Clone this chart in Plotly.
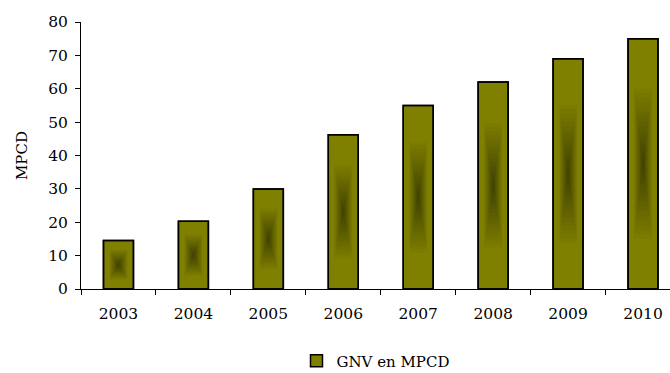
import numpy as np
import plotly.graph_objects as go

years = ["2003", "2004", "2005", "2006", "2007", "2008", "2009", "2010"]
gnv_mpcd = [14.5, 20.3, 30, 46.2, 55, 62, 69, 75]
y_ticks = [0, 10, 20, 30, 40, 50, 60, 70, 80]
series_name = "GNV en MPCD"
y_title = "MPCD"

FONT = "DejaVu Serif"
OUTER = np.array([128, 128, 0])
INNER = np.array([62, 64, 0])
BAR_W = 0.4

def ring_color(f):
    if f >= 0.65:
        c = OUTER
    else:
        t = f / 0.65
        c = INNER + (OUTER - INNER) * t
    return "rgb(%d,%d,%d)" % tuple(int(round(v)) for v in c)

fig = go.Figure()
vals = np.array(gnv_mpcd, dtype=float)

fig.add_trace(go.Bar(
    x=years, y=vals, width=BAR_W, name=series_name,
    marker=dict(color="rgb(128,128,0)", line=dict(color="black", width=1.5)),
    showlegend=True,
))
for f in np.linspace(0.9, 0.04, 24):
    fig.add_trace(go.Bar(
        x=years, y=vals * f, base=vals * (1 - f) / 2, width=BAR_W * f,
        marker=dict(color=ring_color(f), line=dict(width=0)),
        showlegend=False, hoverinfo="skip",
    ))
fig.add_trace(go.Bar(
    x=years, y=vals, width=BAR_W,
    marker=dict(color="rgba(0,0,0,0)", line=dict(color="black", width=1.5)),
    showlegend=False, hoverinfo="skip",
))

fig.update_layout(
    width=670, height=373,
    margin=dict(l=81, r=0, t=22, b=84, autoexpand=False),
    barmode="overlay",
    plot_bgcolor="white", paper_bgcolor="white",
    font=dict(family=FONT, size=15, color="black"),
    showlegend=True,
    legend=dict(orientation="h", x=0.5, xanchor="center",
                yref="container", y=(373 - 361) / 373, yanchor="middle",
                font=dict(family=FONT, size=15, color="black"),
                itemwidth=30),
    xaxis=dict(
        type="category", range=[-0.5, 7.36],
        showline=True, linecolor="black", linewidth=1,
        ticks="outside", ticklen=5, tickcolor="black", tickson="boundaries",
        ticklabelstandoff=10, automargin=False,
        tickfont=dict(family=FONT, size=15.5, color="black"),
        showgrid=False, zeroline=False,
    ),
    yaxis=dict(
        range=[0, 80], tickvals=y_ticks,
        showline=True, linecolor="black", linewidth=1,
        ticks="outside", ticklen=5, tickcolor="black",
        ticklabelstandoff=4, automargin=False,
        tickfont=dict(family=FONT, size=15.5, color="black"),
        showgrid=False, zeroline=False,
        title=dict(text=y_title, standoff=16,
                   font=dict(family=FONT, size=15, color="black")),
    ),
)

fig.write_html("out.html")
